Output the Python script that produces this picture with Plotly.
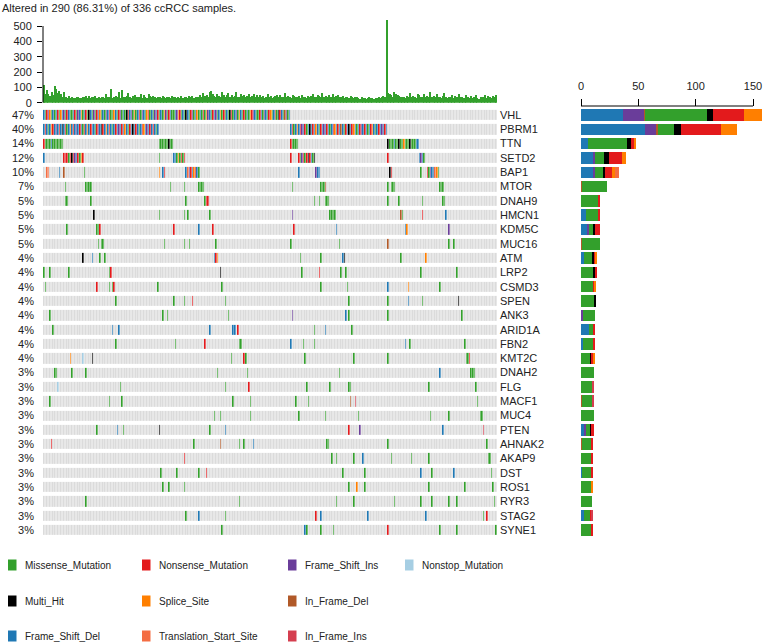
import plotly.graph_objects as go

W, H = 764, 643

title_text = "Altered in 290 (86.31%) of 336 ccRCC samples."
n_samples = 290

genes = ["VHL", "PBRM1", "TTN", "SETD2", "BAP1", "MTOR", "DNAH9", "HMCN1", "KDM5C", "MUC16",
         "ATM", "LRP2", "CSMD3", "SPEN", "ANK3", "ARID1A", "FBN2", "KMT2C", "DNAH2", "FLG",
         "MACF1", "MUC4", "PTEN", "AHNAK2", "AKAP9", "DST", "ROS1", "RYR3", "STAG2", "SYNE1"]
pct_labels = ["47%", "40%", "14%", "12%", "10%", "7%", "5%", "5%", "5%", "5%",
              "4%", "4%", "4%", "4%", "4%", "4%", "4%", "4%", "3%", "3%",
              "3%", "3%", "3%", "3%", "3%", "3%", "3%", "3%", "3%", "3%"]

# variant classification codes
type_codes = ["M", "N", "I", "O", "H", "S", "D", "F", "T", "J"]
type_names = ["Missense_Mutation", "Nonsense_Mutation", "Frame_Shift_Ins", "Nonstop_Mutation",
              "Multi_Hit", "Splice_Site", "In_Frame_Del", "Frame_Shift_Del",
              "Translation_Start_Site", "In_Frame_Ins"]
type_colors = ["#33A02C", "#E31A1C", "#6A3D9A", "#A6CEE3", "#000000", "#FF7F00",
               "#B15928", "#1F78B4", "#F46D43", "#D53E4F"]
legend_col = [0, 1, 2, 3, 0, 1, 2, 0, 1, 2]
legend_row = [0, 0, 0, 0, 1, 1, 1, 2, 2, 2]

# oncoplot cells: "startColumn:codes" (codes fill consecutive sample columns)
vhl_codes = ("FMNISMFMFN" "MSFIMNFMMF" "NMIFSMFNMH" "FMIMNFSMFM" "IFNMMSFMNI" "MFMHNFIMSM"
             "FNMIFMSNMF" "MIFNMFMSIM" "NFMMFISNMF" "MHFMNIMFSM" "FMNMSIFMNF" "IMFSMNMFMH"
             "NMFIMSFMNM" "FMSNIFMMNF" "MIFMNSMFDM" "HNFMDIMF")
pbrm1_a = ("FNFMFSNFIF" "NFHFNMFSFN" "FIFNFMNFSF" "NFFMNIFHNF" "SFNFMFNFIF" "NFSFMNFHFN"
           "FMFNSFIFNF" "NFMF")
pbrm1_b = ("FNMFSFNIFN" "MFHFNFSFMN" "FIFNFMFNSF" "NFDFMNFHFN" "SFMFNIFNFM" "FNSFMFNFIF" "NF")

mut_rows = [
    "0:" + vhl_codes,
    "0:" + pbrm1_a + " 158:" + pbrm1_b,
    "0:NMMMMFMMMMMMM 74:MMMMMMHMM 158:NMMMM 220:HMMMFMMHMMSMMMHMMMFF",
    "0:F 13:NNNMNHNIFNMSN 74:M 83:FFMSMNMN 158:N 163:NMINMNHNFMH 220:N 240:FIFM",
    "2:TT 10:F 13:D 26:M 74:S 76:FN 91:FTINFSNFM 163:F 174:IFF 221:HN 241:M 245:NMIFFTSM",
    "14:M 27:MMMM 81:M 90:M 99:MMMM 159:M 177:MMMD 220:M 222:MMM 253:MMM",
    "14:MM 30:M 91:M 103:MNN 173:M 176:M 180:MMM 220:M 227:M 242:M 255:MM",
    "32:H 74:M 90:M 92:M 106:M 159:I 183:MMMM 228:DM 242:N 257:F",
    "15:M 34:MMN 83:N 99:F 108:N 160:N 187:F 231:FS 259:I",
    "35:M 37:MM 77:M 90:M 93:M 110:M 158:M 189:M 220:D 259:M 262:M",
    "25:H 31:F 36:M 39:M 109:FNS 164:M 177:M 191:FH 228:M 244:S",
    "0:M 4:M 16:M 42:MN 113:H 165:M 176:N 190:M 193:M 241:M 264:M",
    "1:M 34:N 42:M 44:MN 73:M 114:M 177:M 194:M 220:F 233:S 253:M",
    "46:M 83:M 90:M 95:N 116:M 195:M 220:M 233:F 242:M 265:H",
    "4:M 76:M 79:M 118:M 159:I 193:F 195:M 220:M 267:M",
    "6:M 44:F 48:F 106:F 121:FF 124:N 173:M 180:F 197:M",
    "46:M 84:M 103:N 125:MM 158:F 166:M 173:M 231:F 234:M 269:M",
    "17:S 25:O 31:H 120:M 128:NM 167:M 198:M 220:M 270:MMN",
    "7:MM 18:M 27:M 111:M 130:M 189:M 253:F 273:MMM",
    "9:O 49:M 116:M 131:N 168:M 183:M 195:MM 246:M 276:M",
    "4:M 42:M 50:M 121:M 132:M 161:M 169:M 196:D 199:J 277:M",
    "109:M 113:M 132:M 163:M 180:M 201:M 247:M 259:M 279:MM",
    "34:M 47:F 51:M 74:H 106:M 116:F 195:N 202:I 255:F 281:J",
    "5:N 96:M 113:D 125:M 128:M 134:F 181:MM 220:M 283:M",
    "90:N 184:M 187:M 198:M 204:F 222:M 235:M 246:M 284:MM",
    "75:M 85:M 99:M 104:N 191:M 205:M 241:F 248:M 262:F 286:M",
    "76:M 80:M 90:M 195:M 200:S 205:M 246:M 269:M 287:M",
    "27:M 125:M 187:M 198:M 224:M 241:M 248:M 259:M 264:M 288:M",
    "91:M 99:F 116:M 174:N 177:F 207:F 244:F 281:M 283:N",
    "114:M 167:FM 177:M 185:M 220:N 253:M 264:M 289:M",
]

# mutations per sample (top bar plot)
tmb = [115, 58, 82, 60, 45, 72, 50, 108, 88, 62,
       78, 55, 40, 68, 35, 30, 42, 28, 38, 33,
       30, 36, 40, 32, 28, 38, 35, 42, 30, 45,
       32, 38, 40, 44, 30, 36, 28, 34, 38, 32,
       58, 36, 40, 92, 30, 38, 42, 34, 68, 30,
       82, 40, 36, 45, 62, 38, 30, 44, 50, 40,
       38, 34, 55, 32, 48, 40, 30, 58, 42, 36,
       44, 35, 30, 40, 36, 28, 45, 38, 32, 40,
       35, 30, 42, 38, 34, 28, 36, 30, 44, 32,
       40, 36, 30, 42, 38, 45, 32, 40, 36, 34,
       48, 38, 62, 44, 52, 40, 68, 75, 55, 42,
       38, 58, 46, 40, 72, 50, 35, 48, 62, 40,
       52, 38, 45, 68, 40, 36, 58, 42, 50, 38,
       44, 60, 38, 42, 55, 36, 48, 40, 52, 38,
       45, 32, 40, 58, 36, 44, 30, 38, 42, 48,
       36, 50, 40, 34, 62, 38, 45, 40, 30, 52,
       42, 38, 36, 44, 30, 48, 40, 35, 32, 42,
       38, 46, 55, 40, 36, 50, 42, 38, 62, 40,
       45, 36, 52, 38, 40, 58, 35, 42, 48, 36,
       40, 44, 32, 38, 36, 30, 42, 34, 28, 36,
       38, 30, 26, 34, 28, 32, 24, 30, 36, 28,
       32, 26, 30, 28, 35, 30, 38, 42, 34, 540,
       62, 55, 48, 40, 70, 58, 52, 45, 40, 38,
       35, 30, 42, 38, 66, 40, 44, 36, 30, 55,
       48, 40, 38, 60, 34, 45, 40, 72, 38, 42,
       35, 58, 40, 36, 30, 45, 62, 38, 32, 40,
       35, 48, 30, 42, 38, 55, 36, 40, 30, 32,
       50, 35, 28, 45, 32, 38, 48, 30, 26, 40,
       34, 38, 52, 30, 45, 36, 28, 42, 38, 50]
top_ticks = [0, 100, 200, 300, 400, 500]

# side bar: number of samples per gene by variant classification
side_F = [37, 56, 6, 11, 11, 0, 0, 4, 6, 0, 3, 0, 0, 0, 0, 7, 2, 0, 0, 0, 0, 0, 3, 0, 0, 1, 0, 0, 3, 0]
side_I = [18, 10, 0, 1, 1, 0, 0, 0, 1, 0, 0, 0, 0, 0, 2, 0, 0, 0, 0, 0, 0, 0, 1, 0, 0, 0, 0, 0, 0, 0]
side_D = [1, 1, 0, 0, 0, 1, 0, 0, 0, 1, 0, 0, 0, 0, 0, 0, 0, 0, 0, 0, 1, 0, 0, 1, 0, 0, 0, 0, 0, 0]
side_M = [54, 14, 34, 8, 8, 22, 15, 11, 4, 16, 7, 11, 11, 12, 10, 4, 9, 8, 11, 10, 9, 11, 4, 8, 9, 8, 9, 10, 5, 9]
side_H = [5, 6, 4, 4, 1, 0, 0, 0, 1, 0, 2, 1, 0, 1, 0, 0, 0, 1, 0, 0, 0, 0, 1, 0, 0, 0, 0, 0, 0, 0]
side_N = [27, 35, 3, 12, 6, 0, 2, 2, 5, 0, 1, 2, 1, 0, 0, 1, 1, 2, 0, 0, 0, 0, 2, 1, 1, 1, 0, 0, 1, 1]
side_S = [16, 14, 1, 3, 3, 0, 0, 0, 0, 0, 1, 0, 1, 0, 0, 0, 0, 1, 0, 0, 0, 0, 0, 0, 0, 0, 1, 0, 0, 0]
side_T = [0, 0, 0, 0, 3, 0, 0, 0, 0, 0, 0, 0, 0, 0, 0, 0, 0, 0, 0, 0, 0, 0, 0, 0, 0, 0, 0, 0, 0, 0]
side_J = [0, 0, 0, 0, 0, 0, 0, 0, 0, 0, 0, 0, 0, 0, 0, 0, 0, 0, 0, 1, 1, 0, 0, 0, 0, 0, 0, 0, 1, 0]
side_ticks = [0, 50, 100, 150]

# ---------------------------------------------------------------- build
FONT = "Liberation Sans, Arial, Helvetica, sans-serif"
TXT = "#222222"
NONE_COLOR = "#DBDBDB"


def px_x(p):
    return p / W


def px_y(p):
    return 1 - p / H


z = [[0] * n_samples for _ in genes]
for gi, row in enumerate(mut_rows):
    for tok in row.split():
        start, codes = tok.split(":")
        for k, c in enumerate(codes):
            col = int(start) + k
            if col < n_samples:
                z[gi][col] = type_codes.index(c) + 1

level_colors = [NONE_COLOR] + type_colors
nl = len(level_colors)
cscale = []
for k, c in enumerate(level_colors):
    cscale.append([k / nl, c])
    cscale.append([(k + 1) / nl, c])

fig = go.Figure()

fig.add_trace(go.Heatmap(
    z=z, x=list(range(n_samples)), y=list(range(len(genes))),
    colorscale=cscale, zmin=-0.5, zmax=nl - 0.5, showscale=False,
    xgap=0.35, ygap=4, xaxis="x", yaxis="y", hoverinfo="skip"))

fig.add_trace(go.Bar(
    x=list(range(n_samples)), y=tmb, width=0.72, marker_color="#33A02C",
    marker_line_width=0, xaxis="x", yaxis="y2", showlegend=False, hoverinfo="skip"))

side_by_code = {"F": side_F, "I": side_I, "D": side_D, "M": side_M, "H": side_H,
                "N": side_N, "S": side_S, "T": side_T, "J": side_J}
for code in ["F", "I", "D", "M", "H", "N", "S", "T", "J"]:
    fig.add_trace(go.Bar(
        y=list(range(len(genes))), x=side_by_code[code], orientation="h", width=0.8,
        marker_color=type_colors[type_codes.index(code)], marker_line_width=0,
        xaxis="x3", yaxis="y3", showlegend=False, hoverinfo="skip"))

fig.add_trace(go.Scatter(x=[None], y=[None], xaxis="x", yaxis="y4", showlegend=False,
                         hoverinfo="skip"))

mat_dom = [px_y(537.15), px_y(107.85)]
x_dom = [px_x(43), px_x(497)]
top_dom = [px_y(102.7), px_y(15.3)]
side_dom = [px_x(581), 1.0]
side_max = (W - 581) / 1.1467

shapes = [
    dict(type="line", xref="paper", yref="y2", x0=px_x(43), x1=px_x(43), y0=0, y1=500,
         line=dict(color="#000000", width=1)),
    dict(type="line", xref="x3", yref="paper", x0=0, x1=150, y0=px_y(106), y1=px_y(106),
         line=dict(color="#000000", width=1)),
]
annotations = [
    dict(text=title_text, x=0, y=px_y(7.5), xref="paper", yref="paper", xanchor="left",
         yanchor="middle", showarrow=False, font=dict(size=11, color=TXT, family=FONT)),
]
leg_sq_x = [8, 142, 288, 405]
leg_y = [565, 601, 636]
for i, name in enumerate(type_names):
    cx = leg_sq_x[legend_col[i]]
    cy = leg_y[legend_row[i]]
    shapes.append(dict(type="rect", xref="paper", yref="paper", x0=px_x(cx), x1=px_x(cx + 8.5),
                       y0=px_y(cy + 5.5), y1=px_y(cy - 5.5), fillcolor=type_colors[i],
                       line=dict(width=0)))
    annotations.append(dict(text=name, x=px_x(cx + 15), y=px_y(cy), xref="paper", yref="paper",
                            xanchor="left", yanchor="middle", showarrow=False,
                            font=dict(size=10, color=TXT, family=FONT)))

fig.update_layout(
    width=W, height=H, margin=dict(l=0, r=0, t=0, b=0, autoexpand=False),
    paper_bgcolor="white", plot_bgcolor="white", showlegend=False,
    barmode="stack", font=dict(family=FONT, size=11, color=TXT),
    xaxis=dict(domain=x_dom, range=[-0.5, n_samples - 0.5], visible=False, anchor="y",
               automargin=False),
    yaxis=dict(domain=mat_dom, range=[len(genes) - 0.5, -0.5], anchor="x", automargin=False,
               tickmode="array", tickvals=list(range(len(genes))), ticktext=pct_labels,
               ticks="", showgrid=False, zeroline=False, showline=False,
               tickfont=dict(size=11, color=TXT), ticklabelstandoff=8),
    yaxis4=dict(domain=mat_dom, range=[len(genes) - 0.5, -0.5], overlaying="y", side="right",
                anchor="x", automargin=False, tickmode="array",
                tickvals=list(range(len(genes))), ticktext=genes,
                ticks="", showgrid=False, zeroline=False, showline=False,
                tickfont=dict(size=11, color=TXT), ticklabelstandoff=2),
    yaxis2=dict(domain=top_dom, range=[0, 570], anchor="x", automargin=False, tickmode="array",
                tickvals=top_ticks, ticks="outside", ticklen=5, tickcolor="#000000",
                showgrid=False, zeroline=False, showline=False,
                tickfont=dict(size=11, color=TXT), ticklabelstandoff=3),
    xaxis3=dict(domain=side_dom, range=[0, side_max], anchor="free", position=px_y(106),
                automargin=False, side="top", tickmode="array", tickvals=side_ticks,
                ticks="outside", ticklen=7, tickcolor="#000000", showgrid=False,
                zeroline=False, showline=False,
                tickfont=dict(size=11, color=TXT), ticklabelstandoff=5),
    yaxis3=dict(domain=mat_dom, range=[len(genes) - 0.5, -0.5], anchor="x3", visible=False,
                automargin=False),
    shapes=shapes, annotations=annotations,
)

fig.write_html("out.html", config={"displayModeBar": False},
               post_script="document.body.style.margin='0';document.body.style.padding='0';")
